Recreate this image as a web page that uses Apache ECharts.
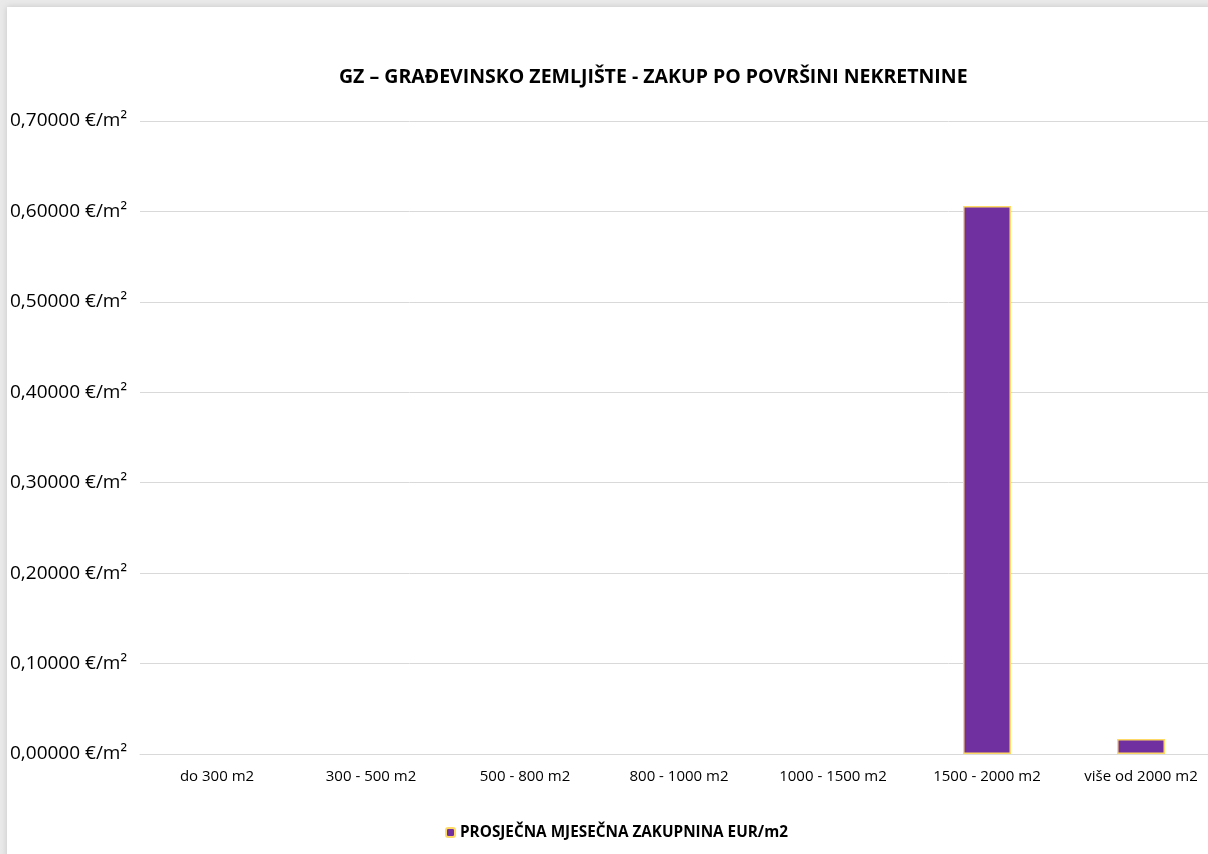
<!DOCTYPE html>
<html>
<head>
<meta charset="utf-8">
<script src="https://cdn.jsdelivr.net/npm/echarts@6/dist/echarts.min.js"></script>
<style>
  html, body { margin: 0; padding: 0; background: #e9e9e9; overflow: hidden; }
  #chart { position: absolute; left: 7px; top: 7px; width: 1220px; height: 860px; background: #fff;
           box-shadow: 0 0 6px rgba(0,0,0,0.15); }
</style>
</head>
<body>
<div id="chart"></div>
<script>
// kategorije povrsine
var categories = ['do 300 m2', '300 - 500 m2', '500 - 800 m2', '800 - 1000 m2', '1000 - 1500 m2', '1500 - 2000 m2', 'više od 2000 m2'];
// prosjecna mjesecna zakupnina EUR/m2
var values = [0, 0, 0, 0, 0, 0.606, 0.0165];
var seriesName = 'PROSJEČNA MJESEČNA ZAKUPNINA EUR/m2';

var myChart = echarts.init(document.getElementById('chart'));
var font = '"Open Sans", "Noto Sans", sans-serif';

// stupci s nulom nemaju obrub
var barData = values.map(function (v) {
  return v === 0 ? { value: v, itemStyle: { borderWidth: 0 } } : v;
});

var option = {
  animation: false,
  title: {
    text: 'GZ – GRAĐEVINSKO ZEMLJIŠTE - ZAKUP PO POVRŠINI NEKRETNINE',
    left: 327,
    top: 55,
    textStyle: { fontFamily: font, fontSize: 19.5, fontWeight: 'bold', color: '#000' }
  },
  legend: {
    left: 433,
    top: 813,
    itemWidth: 9,
    itemHeight: 9,
    itemGap: 5,
    textStyle: { fontFamily: font, fontSize: 15.3, fontWeight: 'bold', color: '#000' },
    data: [seriesName]
  },
  grid: { left: 133, right: 9, top: 114, bottom: 113 },
  xAxis: {
    type: 'category',
    data: categories,
    axisLine: { lineStyle: { color: '#d9d9d9' } },
    axisTick: { show: false },
    axisLabel: { fontFamily: font, fontSize: 15, color: '#000', margin: 15 }
  },
  yAxis: {
    type: 'value',
    min: 0,
    max: 0.7,
    interval: 0.1,
    axisLine: { show: false },
    axisTick: { show: false },
    splitLine: { lineStyle: { color: '#d9d9d9', width: 1 } },
    axisLabel: {
      fontFamily: font, fontSize: 19, color: '#000',
      align: 'left', margin: 130,
      formatter: function (v) { return v.toFixed(5).replace('.', ',') + ' €/m²'; }
    }
  },
  series: [{
    name: seriesName,
    type: 'bar',
    data: barData,
    barWidth: 48,
    itemStyle: { color: '#7030a0', borderColor: '#ffd966', borderWidth: 1.5 }
  }]
};
myChart.setOption(option);
</script>
</body>
</html>
